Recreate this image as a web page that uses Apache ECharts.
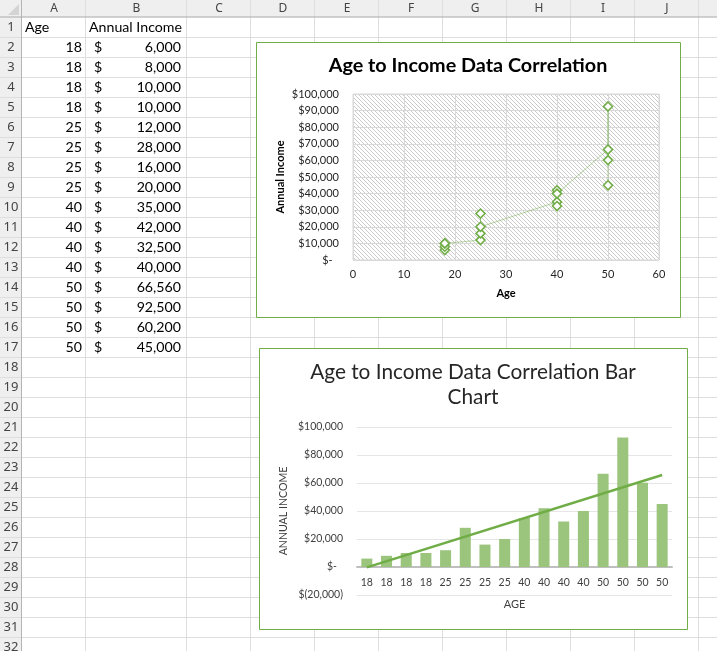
<!DOCTYPE html>
<html><head><meta charset="utf-8">
<script src="https://cdn.jsdelivr.net/npm/echarts@6/dist/echarts.min.js"></script>
<style>html,body{margin:0;padding:0;background:#fff;overflow:hidden}#c{width:717px;height:651px}</style>
</head><body><div id="c"></div>
<script>
// ---- data ----
const columnLetters = ['A','B','C','D','E','F','G','H','I','J'];
const headerAge = 'Age';
const headerIncome = 'Annual Income';
const ages = [18,18,18,18,25,25,25,25,40,40,40,40,50,50,50,50];
const incomes = [6000,8000,10000,10000,12000,28000,16000,20000,35000,42000,32500,40000,66560,92500,60200,45000];
const trendlineEnds = [-260, 65730]; // linear trendline value at first and last bar
const scatterTitle = 'Age to Income Data Correlation';
const scatterXName = 'Age';
const scatterYName = 'Annual Income';
const barTitle = 'Age to Income Data Correlation Bar\nChart';
const barXName = 'AGE';
const barYName = 'ANNUAL INCOME';

// ---- helpers ----
const FONT = 'Lato, "Liberation Sans", sans-serif';
function money(v){
  if (v === 0) return '$-\u2007';
  const s = Math.abs(v).toLocaleString('en-US');
  return v < 0 ? '$(' + s + ')' : '$' + s;
}
function hatch(){
  const c = document.createElement('canvas'); c.width = 4; c.height = 4;
  const g = c.getContext('2d');
  g.fillStyle = '#fff'; g.fillRect(0,0,4,4);
  g.strokeStyle = '#cacaca'; g.lineWidth = 1;
  g.beginPath(); g.moveTo(-1,-1); g.lineTo(5,5); g.stroke();
  g.beginPath(); g.moveTo(-5,-1); g.lineTo(1,5); g.stroke();
  g.beginPath(); g.moveTo(3,-1); g.lineTo(9,5); g.stroke();
  return c;
}

// ---- spreadsheet backdrop (graphic) ----
const colEdges = [22,86,187,251,315,379,443,507,571,635,699,763];
const headerH = 17.5, rowH = 20, nRows = 32;
const g = [];
const Z = -10;
function line(x1,y1,x2,y2,stroke,w){ g.push({type:'line', z:Z, silent:true, shape:{x1,y1,x2,y2}, style:{stroke, lineWidth:w||1}}); }
function txt(text,x,y,align,font,fill){ g.push({type:'text', z:Z+1, silent:true, x, y, style:{text, x:0, y:0, font, fill:fill||'#000', align, textAlign:align, verticalAlign:'middle', textVerticalAlign:'middle'}}); }
g.push({type:'rect', z:Z, silent:true, shape:{x:0,y:0,width:717,height:headerH}, style:{fill:'#efefef'}});
g.push({type:'rect', z:Z, silent:true, shape:{x:0,y:0,width:22,height:651}, style:{fill:'#efefef'}});
g.push({type:'polygon', z:Z, silent:true, shape:{points:[[19,4],[19,15],[8,15]]}, style:{fill:'#d4d4d4'}});
for (let r = 1; r <= nRows; r++) {
  const y = Math.round(headerH + rowH*r) - 0.5;
  line(0,y,717,y,'#dedede');
}
for (let i = 0; i < colEdges.length; i++) {
  const x = colEdges[i] - 0.5;
  line(x, 0, x, 651, i === 0 ? '#b5b5b5' : '#dedede');
}
line(0, headerH - 0.5, 717, headerH - 0.5, '#ababab');
columnLetters.forEach((L,i)=>{ txt(L, (colEdges[i]+colEdges[i+1])/2, 9, 'center', '12px "Noto Sans", sans-serif', '#444'); });
for (let r = 1; r <= nRows; r++) txt(String(r), 11, headerH + rowH*(r-0.5), 'center', '13px "Noto Sans", sans-serif', '#444');
const CF = '14.2px ' + FONT;
txt(headerAge, 25, headerH + rowH*0.5, 'left', CF);
txt(headerIncome, 89, headerH + rowH*0.5, 'left', CF);
ages.forEach((a,i)=>{
  const yc = headerH + rowH*(i+1.5);
  txt(String(a), 82, yc, 'right', CF);
  txt('$', 94, yc, 'left', CF);
  txt(incomes[i].toLocaleString('en-US'), 181, yc, 'right', CF);
});
g.push({type:'rect', z:Z+2, silent:true, shape:{x:256.5,y:42.5,width:424,height:275}, style:{fill:'#fff', stroke:'#70ad47', lineWidth:1}});
g.push({type:'rect', z:Z+2, silent:true, shape:{x:259.5,y:348.5,width:428,height:281}, style:{fill:'#fff', stroke:'#70ad47', lineWidth:1}});
g.push({type:'text', z:Z+3, silent:true, x:468, y:66, style:{text:scatterTitle, font:'bold 19.8px ' + FONT, fill:'#000', align:'center', textAlign:'center', verticalAlign:'middle', textVerticalAlign:'middle'}});
g.push({type:'text', z:Z+3, silent:true, x:473, y:384.5, style:{text:barTitle, font:'20.8px ' + FONT, fill:'#262626', lineHeight:25, align:'center', textAlign:'center', verticalAlign:'middle', textVerticalAlign:'middle'}});

// ---- chart ----
const chart = echarts.init(document.getElementById('c'), null, {renderer:'canvas'});
chart.setOption({
  backgroundColor: '#fff',
  animation: false,
  graphic: g,
  grid: [
    {left:353, top:94, width:306, height:166, show:true, borderColor:'#d9d9d9', borderWidth:1,
     backgroundColor:{image: hatch(), repeat:'repeat'}},
    {left:357, top:427, width:315, height:168}
  ],
  xAxis: [
    {gridIndex:0, type:'value', min:0, max:60, interval:10,
     axisLine:{show:false}, axisTick:{show:false},
     splitLine:{show:true, lineStyle:{color:'#d9d9d9', width:1}},
     axisLabel:{fontFamily:FONT, fontSize:11, color:'#262626', margin:9},
     name:scatterXName, nameLocation:'middle', nameGap:28,
     nameTextStyle:{fontFamily:FONT, fontSize:11, fontWeight:'bold', color:'#000'}},
    {gridIndex:1, type:'category', data:ages.map(String), boundaryGap:true, offset:-28,
     axisLine:{show:true, onZero:false, lineStyle:{color:'#bfbfbf', width:2}},
     axisTick:{show:false},
     axisLabel:{fontFamily:FONT, fontSize:10.5, color:'#404040', interval:0, margin:10},
     name:barXName, nameLocation:'middle', nameGap:32,
     nameTextStyle:{fontFamily:FONT, fontSize:11, color:'#404040'}},
    {gridIndex:1, type:'value', min:0.5, max:16.5, show:false}
  ],
  yAxis: [
    {gridIndex:0, type:'value', min:0, max:100000, interval:10000,
     axisLine:{show:false}, axisTick:{show:false},
     splitLine:{show:true, lineStyle:{color:'#d9d9d9', width:1}},
     axisLabel:{fontFamily:FONT, fontSize:11, color:'#262626', margin:14, formatter:money},
     name:scatterYName, nameLocation:'middle', nameGap:67, nameRotate:90,
     nameTextStyle:{fontFamily:FONT, fontSize:11, fontWeight:'bold', color:'#000'}},
    {gridIndex:1, type:'value', min:-20000, max:100000, interval:20000,
     axisLine:{show:false}, axisTick:{show:false},
     splitLine:{show:true, lineStyle:{color:'#e6e6e6', width:1}},
     axisLabel:{fontFamily:FONT, fontSize:10.5, color:'#404040', margin:14, formatter:money},
     name:barYName, nameLocation:'middle', nameGap:68, nameRotate:90,
     nameTextStyle:{fontFamily:FONT, fontSize:10.6, color:'#404040'}}
  ],
  series: [
    {type:'line', xAxisIndex:0, yAxisIndex:0, data: ages.map((a,i)=>[a, incomes[i]]),
     symbol:'diamond', symbolSize:9, showAllSymbol:true,
     itemStyle:{color:'#ffffff', borderColor:'#70ad47', borderWidth:1.6},
     lineStyle:{color:'#70ad47', width:1, opacity:0.5}, z:3},
    {type:'bar', xAxisIndex:1, yAxisIndex:1, data: incomes, barCategoryGap:'44%',
     itemStyle:{color:'#9bc57c'}, z:2},
    {type:'line', xAxisIndex:2, yAxisIndex:1, data:[[1, trendlineEnds[0]],[16, trendlineEnds[1]]],
     symbol:'none', lineStyle:{color:'#70ad47', width:2.5}, z:4}
  ]
});
</script></body></html>
